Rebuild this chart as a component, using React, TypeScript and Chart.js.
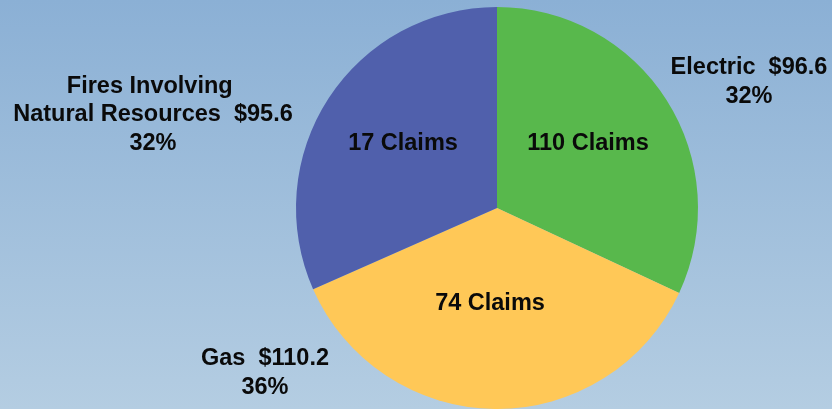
import React, { useEffect, useRef } from "react";
import { Chart, registerables } from "chart.js";

Chart.register(...registerables);

const categories = ["Electric", "Gas", "Fires Involving \nNatural Resources"];
const amounts = [96.6, 110.2, 95.6];
const percents = ["32%", "36%", "32%"];
const claims = ["110 Claims", "74 Claims", "17 Claims"];
const colors = ["#58B84C", "#FFC857", "#5060AC"];

// label placement (layout only): x centre and first-line baseline
const outerPos = [
  { x: 749, y: 74 },
  { x: 265, y: 365 },
  { x: 153, y: 92.5 },
];
const innerPos = [
  { x: 588, y: 150 },
  { x: 490, y: 310 },
  { x: 403, y: 150 },
];

const labelPlugin = {
  id: "labels",
  afterDraw(chart: any) {
    const ctx = chart.ctx;
    ctx.save();
    ctx.fillStyle = "#0a0a0a";
    ctx.font = "bold 23.5px Arial, 'Liberation Sans', Helvetica, sans-serif";
    ctx.textAlign = "center";
    ctx.textBaseline = "alphabetic";
    const lh = 28.5;
    categories.forEach((c, i) => {
      const lines = c.split("\n");
      lines[lines.length - 1] = lines[lines.length - 1] + "  $" + amounts[i].toFixed(1);
      lines.push(percents[i]);
      lines.forEach((ln, k) => {
        ctx.fillText(ln, outerPos[i].x, outerPos[i].y + k * lh);
      });
      ctx.fillText(claims[i], innerPos[i].x, innerPos[i].y);
    });
    ctx.restore();
  },
};

export default function App() {
  const ref = useRef<HTMLCanvasElement>(null);
  useEffect(() => {
    document.body.style.margin = "0";
    const chart = new Chart(ref.current!, {
      type: "pie",
      data: {
        labels: categories.map((c) => c.replace("\n", "")),
        datasets: [
          {
            data: amounts,
            backgroundColor: colors,
            borderWidth: 0,
          },
        ],
      },
      options: {
        responsive: false,
        animation: false,
        layout: { padding: { left: 162, right: 0, top: 7, bottom: -11 } },
        plugins: {
          legend: { display: false },
          tooltip: { enabled: false },
        },
      },
      plugins: [labelPlugin],
    });
    return () => chart.destroy();
  }, []);
  return (
    <div
      style={{
        position: "fixed",
        left: 0,
        top: 0,
        width: 832,
        height: 409,
        background: "linear-gradient(to bottom, #8BB0D5 0%, #B4CDE2 100%)",
      }}
    >
      <canvas ref={ref} width={832} height={409} style={{ display: "block" }} />
    </div>
  );
}
